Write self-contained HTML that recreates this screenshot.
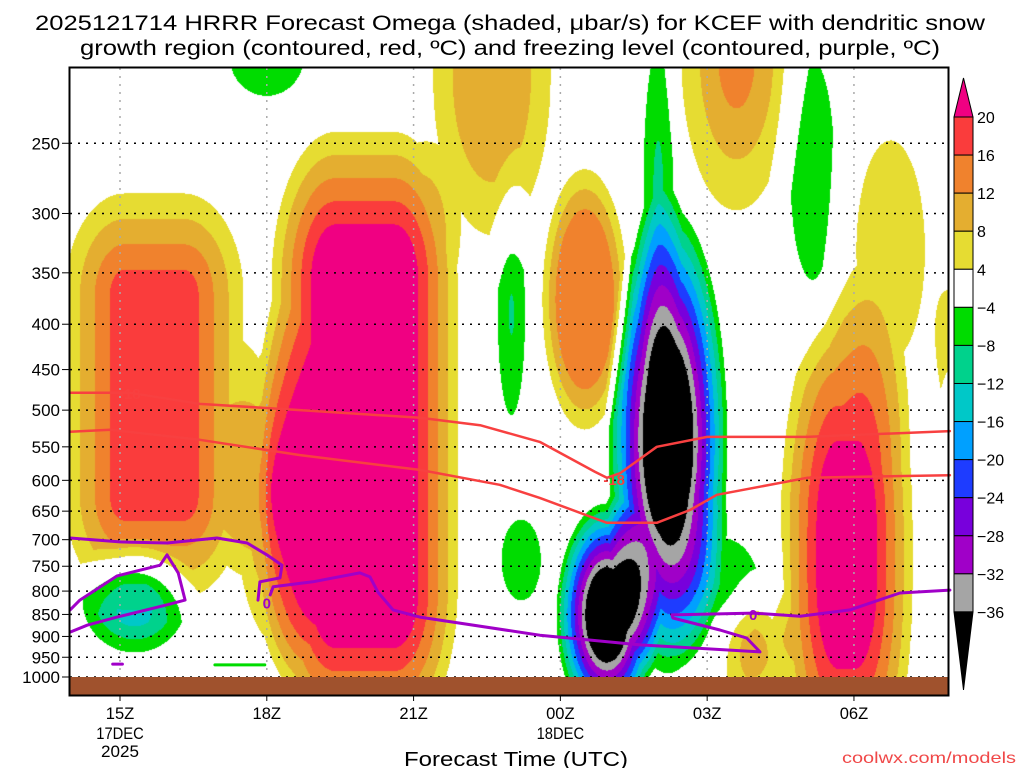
<!DOCTYPE html>
<html><head><meta charset="utf-8"><title>HRRR Omega KCEF</title>
<style>
html,body{margin:0;padding:0;background:#fff;}
#wrap{position:relative;width:1024px;height:768px;overflow:hidden;background:#fff;}
#field{position:absolute;left:70px;top:68px;}
#ov{position:absolute;left:0;top:0;}
text{font-family:"Liberation Sans",sans-serif;}
</style></head>
<body>
<div id="wrap">
<canvas id="field" width="878" height="627"></canvas>
<svg id="ov" width="1024" height="768" xmlns="http://www.w3.org/2000/svg">
  <text x="510" y="30" text-anchor="middle" font-size="21" textLength="950" lengthAdjust="spacingAndGlyphs">2025121714 HRRR Forecast Omega (shaded, μbar/s) for KCEF with dendritic snow</text>
  <text x="510" y="55" text-anchor="middle" font-size="21" textLength="860" lengthAdjust="spacingAndGlyphs">growth region (contoured, red, ºC) and freezing level (contoured, purple, ºC)</text>
  <g id="grid"></g>
  <g id="lines"></g>
  <rect x="70" y="677" width="878" height="18" fill="#a0522d"/>
  <rect x="69.5" y="67.5" width="879" height="628" fill="none" stroke="#000" stroke-width="2"/>
  <g id="axes"></g>
  <g id="cbar"></g>
  <text x="516" y="766" text-anchor="middle" font-size="20" textLength="224" lengthAdjust="spacingAndGlyphs">Forecast Time (UTC)</text>
  <text x="1016" y="763" text-anchor="end" font-size="16" fill="#f04848" textLength="174" lengthAdjust="spacingAndGlyphs">coolwx.com/models</text>
</svg>
</div>
<script>
// ---- data ----
const presTicks=[250,300,350,400,450,500,550,600,650,700,750,800,850,900,950,1000];
const timeTicks=[15,18,21,24,27,30];
const timeLabels=["15Z","18Z","21Z","00Z","03Z","06Z"];
const dateLabels=["17DEC","","","18DEC","",""];
const yearLabels=["2025","","","","",""];
const levelVals=[20,16,12,8,4,-4,-8,-12,-16,-20,-24,-28,-32,-36];
// omega features (hour since 00Z 17Dec, pressure hPa, amplitude, cap, radii hours / ln p, core half sizes)
const blobHour=[20.0,15.7,18.2,22.6,24.5,27.6,29.85,30.75,27.9,26.2,24.95,26.0,27.3,23.0,23.2,29.15,18.0,15.3,32.0,32.2];
const blobPres=[535,481,620,210,375,200,728,330,920,540,851,280,790,390,738,268,200,819,580,480];
const blobAmp=[30,20,18,16,30,16,30,8,14,-60,-60,-10,-8,-9,-8,-8,-8,-20,-8,8];
const blobCap=[30,18,17,10,14,14,30,8,11,-50,-50,-10,-8,-9,-8,-8,-8,-14,-8,8];
const blobRx=[1.5,1.53,1.1,1.6,1.0,1.5,1.37,1.4,0.9,1.3,1.1,0.5,1.5,0.5,0.8,0.9,1.5,1.33,0.3,0.8];
const blobRy=[0.45,0.33,0.5,0.55,0.39,0.53,0.68,0.57,0.2,0.65,0.31,0.6,0.25,0.47,0.21,0.57,0.2,0.17,0.3,0.5];
const blobCoreX=[0.6,0.6,0,0,0,0,0.16,0,0,0,0,0,0,0,0,0,0,0,0,0];
const blobCoreY=[0.4,0.26,0,0,0,0,0.07,0,0,0,0,0,0,0,0,0,0,0,0,0];
// contour lines: [hour, pressure]
const dgzUpper=[[13.98,478],[15.2,478],[16.63,492],[18.68,500],[21.13,510],[22.36,520],[23.58,543],[24.71,587],[24.95,596],[25.22,589],[25.97,550],[27.0,536],[29.04,536],[31.96,528]];
const dgzLower=[[13.98,529],[14.8,526],[16.63,540],[18.68,562],[21.13,584],[22.76,607],[23.58,628],[24.95,670],[25.97,670],[26.65,648],[27.2,623],[29.04,596],[31.96,592]];
const frzA=[[13.98,697],[15,704],[15.96,706],[16.98,697],[17.6,706],[18.0,728],[18.31,748],[18.27,773],[17.86,781],[17.82,819]];
const frzB=[[18.07,808],[18.13,791],[18.94,781],[19.9,763],[20.11,771],[20.27,802],[20.58,840],[21.13,856],[23.58,897],[25.63,920],[28.08,937],[27.81,904],[27.26,885],[26.3,858],[26.28,851],[27.94,847],[28.9,854],[29.92,840],[30.94,804],[31.96,798]];
const frzC=[[13.98,840],[14.18,819],[14.94,769],[15.82,748],[15.96,728],[16.19,763],[16.33,819],[15.96,829],[14.94,856],[14.33,874],[13.98,890]];
const frzD=[[14.85,967],[15.05,967]];
const greenDash=[[16.94,969],[17.96,969]];

// ---- scales ----
const X0=70,X1=948,Y0=68,Y1=695;
function xOf(h){return 120+(h-15)*48.93;}
function yOf(p){return 677-385*Math.log(1000/p);}
function hOf(x){return 15+(x-120)/48.93;}
function pOf(y){return 1000*Math.exp(-(677-y)/385);}
const NS="http://www.w3.org/2000/svg";
function mk(tag,attrs,parent){const e=document.createElementNS(NS,tag);for(const k in attrs)e.setAttribute(k,attrs[k]);parent.appendChild(e);return e;}

const colors={mag:[240,0,130],red:[250,60,60],ora:[240,130,45],gold:[228,174,48],yel:[230,220,50],wht:[255,255,255],grn:[0,220,0],teal:[0,210,140],cyan:[0,200,200],lb:[0,160,255],blu:[30,60,255],vio:[120,0,220],pur:[160,0,200],gry:[165,165,165],blk:[0,0,0]};
const cbColors=["#fa3c3c","#f0822d","#e4ae30","#e6dc32","#ffffff","#00dc00","#00d28c","#00c8c8","#00a0ff","#1e3cff","#7800dc","#a000c8","#a5a5a5"];
function colOf(v){
  if(v>=20)return colors.mag;if(v>=16)return colors.red;if(v>=12)return colors.ora;if(v>=8)return colors.gold;if(v>=4)return colors.yel;
  if(v>-4)return colors.wht;if(v>-8)return colors.grn;if(v>-12)return colors.teal;if(v>-16)return colors.cyan;if(v>-20)return colors.lb;
  if(v>-24)return colors.blu;if(v>-28)return colors.vio;if(v>-32)return colors.pur;if(v>-36)return colors.gry;return colors.blk;
}
const lnP=blobPres.map(p=>Math.log(p));
function field(h,lp){
  let s=0;
  for(let i=0;i<blobHour.length;i++){
    const dx=Math.max(0,Math.abs(h-blobHour[i])-blobCoreX[i])/blobRx[i];
    const dy=Math.max(0,Math.abs(lp-lnP[i])-blobCoreY[i])/blobRy[i];
    const r=Math.sqrt(dx*dx+dy*dy);
    let v=blobAmp[i]*(1-r);
    if(blobAmp[i]>0)v=Math.min(blobCap[i],Math.max(0,v));else v=Math.max(blobCap[i],Math.min(0,v));
    s+=v;
  }
  return s;
}
// ---- shading ----
(function(){
  const cv=document.getElementById('field');const ctx=cv.getContext('2d');
  const W=cv.width,H=cv.height;const img=ctx.createImageData(W,H);const d=img.data;
  for(let j=0;j<H;j++){
    const lp=Math.log(pOf(Y0+j+0.5));
    for(let i=0;i<W;i++){
      const c=colOf(field(hOf(X0+i+0.5),lp));
      const k=(j*W+i)*4;d[k]=c[0];d[k+1]=c[1];d[k+2]=c[2];d[k+3]=255;
    }
  }
  ctx.putImageData(img,0,0);
})();
// ---- grid ----
const grid=document.getElementById('grid');
presTicks.forEach(p=>{
  const y=yOf(p);
  const l=mk('line',{x1:X0,x2:X1,y1:y,y2:y,stroke:'#000','stroke-width':1.5,'stroke-dasharray':'2,6'},grid);
  
  
});
timeTicks.forEach(t=>{
  const x=xOf(t);
  const l=mk('line',{x1:x,x2:x,y1:Y0,y2:Y1,stroke:'#aaa','stroke-width':1.5,'stroke-dasharray':'2,6'},grid);
  
  
});
// ---- contour lines ----
const lines=document.getElementById('lines');
function poly(arr,color,w,name){
  const pts=arr.map(a=>xOf(a[0]).toFixed(1)+','+yOf(a[1]).toFixed(1)).join(' ');
  const e=mk('polyline',{points:pts,fill:'none',stroke:color,'stroke-width':w,'stroke-linejoin':'round','stroke-linecap':'round'},lines);
  
  
}
poly(dgzUpper,'#f84040',2.5,'dgz-contour-upper');
poly(dgzLower,'#f84040',2.5,'dgz-contour-lower');
poly(frzA,'#a000c8',3,'freezing-contour-a');
poly(frzB,'#a000c8',3,'freezing-contour-b');
poly(frzC,'#a000c8',3,'freezing-contour-c');
poly(frzD,'#a000c8',3,'freezing-contour-d');
poly(greenDash,'#00dc00',3,'omega-contour-fragment');
function lbl(h,p,txt,color,name){
  const t=mk('text',{x:xOf(h),y:yOf(p)+6,'text-anchor':'middle','font-size':15,'font-weight':'bold',fill:color},lines);
  t.textContent=txt;
  
  
}
lbl(15.2,478,'-18','#f84040','dgz-label-left');
lbl(25.1,598,'-18','#f84040','dgz-label-center');
lbl(18.0,824,'0','#a000c8','freezing-label-left');
lbl(27.94,849,'0','#a000c8','freezing-label-right');
// ---- axes ----
const axes=document.getElementById('axes');
presTicks.forEach(p=>{
  const y=yOf(p);
  const t=mk('line',{x1:62,x2:69,y1:y,y2:y,stroke:'#000','stroke-width':1},axes);
  
  
  const tx=mk('text',{x:60,y:y+6,'text-anchor':'end','font-size':17},axes);
  tx.textContent=p;
  
  
});
timeTicks.forEach((t,i)=>{
  const x=xOf(t);
  const tk=mk('line',{x1:x,x2:x,y1:695,y2:701,stroke:'#000','stroke-width':1},axes);
  
  
  [[timeLabels[i],719],[dateLabels[i],739],[yearLabels[i],757]].forEach(([s,y])=>{
    if(!s)return;
    const tx=mk('text',{x:x,y:y,'text-anchor':'middle','font-size':17,textLength:s.length*9.5,lengthAdjust:'spacingAndGlyphs'},axes);
    tx.textContent=s;
    
    
  });
});
// ---- colorbar ----
const cb=document.getElementById('cbar');
const CBX=954,CBW=19,CBT=117,STEP=38.07;
const tri=mk('polygon',{points:`${CBX},${CBT} ${CBX+CBW},${CBT} ${CBX+CBW/2},78`,fill:'#f00082',stroke:'#000','stroke-width':1},cb);


cbColors.forEach((c,i)=>{
  const r=mk('rect',{x:CBX,y:CBT+i*STEP,width:CBW,height:STEP,fill:c,stroke:'#000','stroke-width':1},cb);
  
  
});
const bot=CBT+cbColors.length*STEP;
const tri2=mk('polygon',{points:`${CBX},${bot} ${CBX+CBW},${bot} ${CBX+CBW/2},690`,fill:'#000',stroke:'#000','stroke-width':1},cb);


levelVals.forEach((v,i)=>{
  const t=mk('text',{x:977,y:CBT+i*STEP+6,'font-size':16},cb);
  t.textContent=v<0?'\u2212'+Math.abs(v):String(v);
  
  
});
</script>
</body></html>
